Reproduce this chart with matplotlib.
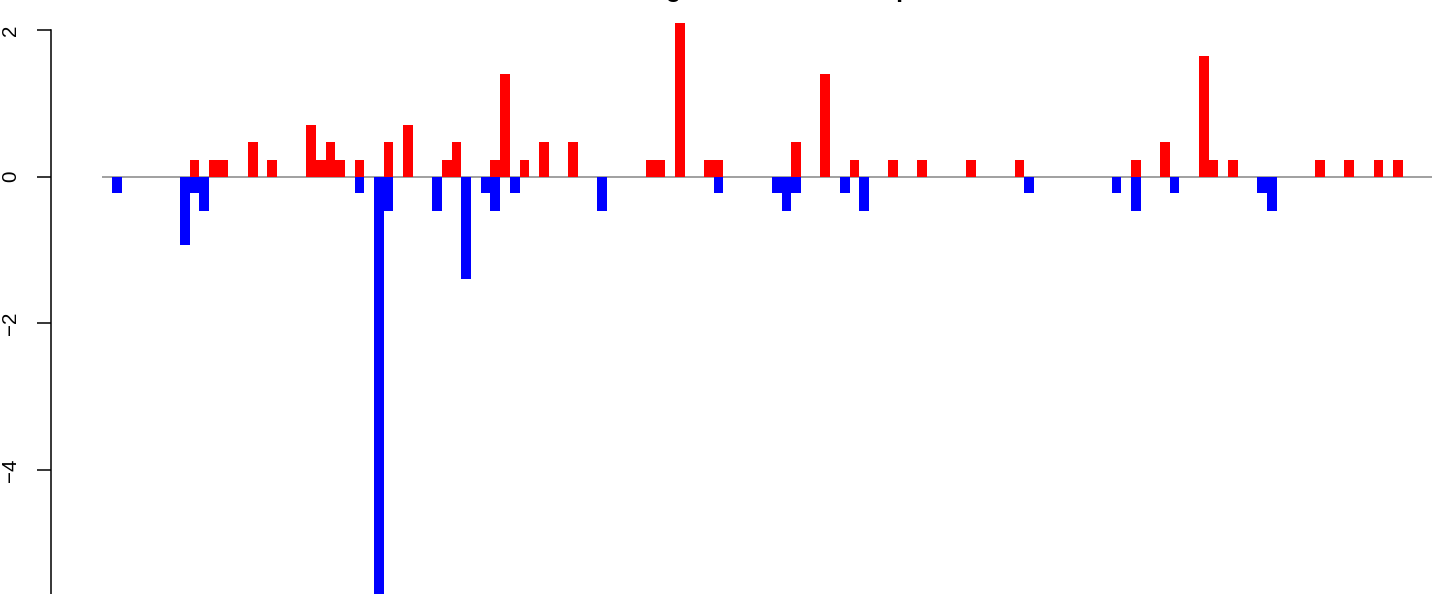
import numpy as np
import matplotlib
matplotlib.use("Agg")
import matplotlib.pyplot as plt

plt.rcParams['font.family'] = ['Liberation Sans', 'DejaVu Sans']

# jumlah slot batang (garis dasar abu-abu menutup semua slot)
n_slots = 137

# batang merah (nilai positif): posisi slot dan nilainya
red_pos = [9, 11, 12, 15, 17, 21, 22, 23, 24, 26, 29, 31, 35, 36, 40, 41, 43, 45, 48,
           56, 57, 59, 62, 63, 71, 74, 77, 81, 84, 89, 94, 106, 109, 113, 114, 116,
           125, 128, 131, 133]
red_val = [0.23, 0.23, 0.23, 0.47, 0.23, 0.70, 0.23, 0.47, 0.23, 0.23, 0.47, 0.70, 0.23,
           0.47, 0.23, 1.40, 0.23, 0.47, 0.47, 0.23, 0.23, 2.10, 0.23, 0.23, 0.47, 1.40,
           0.23, 0.23, 0.23, 0.23, 0.23, 0.23, 0.47, 1.64, 0.23, 0.23, 0.23, 0.23, 0.23,
           0.23]

# batang biru (nilai negatif)
blue_pos = [1, 8, 9, 10, 26, 28, 29, 34, 37, 39, 40, 42, 51, 63, 69, 70, 71, 76, 78,
            95, 104, 106, 110, 119, 120]
blue_val = [-0.23, -0.93, -0.23, -0.47, -0.23, -5.75, -0.47, -0.47, -1.40, -0.23, -0.47,
            -0.23, -0.47, -0.23, -0.23, -0.47, -0.23, -0.23, -0.47, -0.23, -0.23, -0.47,
            -0.23, -0.23, -0.47]

y_ticks = [2, 0, -2, -4]
title_text = "log_counts_and_samples"  # judul terpotong di atas gambar

up = np.zeros(n_slots)
down = np.zeros(n_slots)
up[red_pos] = red_val
down[blue_pos] = blue_val
x = np.arange(n_slots)

fig = plt.figure(figsize=(14.44, 5.94), dpi=100)
ax = fig.add_axes([51 / 1444, -0.0626, 1 - 51 / 1444, 1.0616])

ax.hlines(0, 0, n_slots, color="#999999", linewidth=1.3, zorder=1)  # garis nol
ax.bar(x, up, width=1.0, align="edge", color="#FF0000", linewidth=0, zorder=2)
ax.bar(x, down, width=1.0, align="edge", color="#0000FF", linewidth=0, zorder=2)

ax.set_xlim(-51.3 / 9.697, (1444 - 103.3) / 9.697)
ax.set_ylim(-6.2, 2.4)

for s in ["top", "right", "bottom"]:
    ax.spines[s].set_visible(False)
ax.spines["left"].set_bounds(-6, 2)  # sumbu berlanjut sampai bawah gambar
ax.spines["left"].set_linewidth(1.1)
ax.set_xticks([])
ax.set_yticks(y_ticks)
ax.set_yticklabels([str(t).replace("-", "\u2212") for t in y_ticks], rotation=90, va="center")
ax.tick_params(axis="y", length=10, width=1.1, pad=12, labelsize=14.8)

fig.text(795 / 1444, 1.005, title_text, ha="center", va="baseline",
         fontsize=17.7, fontweight="bold")

fig.savefig("out.png", dpi=100)
